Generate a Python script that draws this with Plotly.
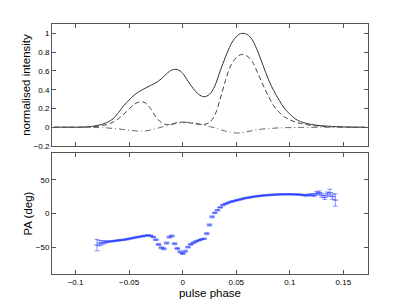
import plotly.graph_objects as go

# pulse profile (top panel)
prof_phase = [-0.12, -0.11, -0.10, -0.09, -0.085, -0.08, -0.075, -0.07, -0.065, -0.06,
              -0.055, -0.05, -0.045, -0.04, -0.035, -0.03, -0.025, -0.02, -0.015, -0.01,
              -0.005, 0.0, 0.005, 0.01, 0.015, 0.02, 0.025, 0.03, 0.035, 0.04,
              0.045, 0.05, 0.055, 0.06, 0.065, 0.07, 0.075, 0.08, 0.085, 0.09,
              0.095, 0.10, 0.105, 0.11, 0.12, 0.13, 0.14, 0.15, 0.16, 0.17]
total_I = [0, 0, 0, 0.003, 0.008, 0.018, 0.032, 0.055, 0.09, 0.155,
           0.23, 0.29, 0.345, 0.385, 0.415, 0.445, 0.475, 0.515, 0.57, 0.61,
           0.615, 0.575, 0.49, 0.41, 0.35, 0.325, 0.35, 0.44, 0.6, 0.75,
           0.88, 0.965, 1.0, 0.99, 0.93, 0.81, 0.66, 0.51, 0.39, 0.29,
           0.2, 0.14, 0.09, 0.06, 0.03, 0.015, 0.008, 0.003, 0, 0]
linear_L = [0, 0, 0, 0.001, 0.004, 0.01, 0.018, 0.03, 0.055, 0.09,
            0.14, 0.195, 0.245, 0.272, 0.26, 0.2, 0.11, 0.05, 0.028, 0.035,
            0.05, 0.055, 0.05, 0.04, 0.03, 0.03, 0.05, 0.13, 0.3, 0.5,
            0.66, 0.74, 0.775, 0.76, 0.7, 0.58, 0.45, 0.33, 0.23, 0.16,
            0.11, 0.08, 0.055, 0.04, 0.02, 0.01, 0.005, 0.002, 0, 0]
circular_V = [0, 0, 0, 0, 0, -0.002, -0.005, -0.008, -0.013, -0.018,
              -0.025, -0.032, -0.038, -0.042, -0.04, -0.03, -0.015, 0.0, 0.015, 0.03,
              0.042, 0.05, 0.053, 0.048, 0.037, 0.022, 0.008, -0.008, -0.025, -0.042,
              -0.055, -0.062, -0.058, -0.048, -0.036, -0.026, -0.019, -0.014, -0.01, -0.007,
              -0.005, -0.004, -0.003, -0.002, -0.001, 0, 0, 0, 0, 0]

# position angle (bottom panel)
pa_phase = [-0.08, -0.0775, -0.075, -0.0725, -0.07, -0.0675, -0.065, -0.0625, -0.06, -0.0575,
            -0.055, -0.0525, -0.05, -0.0475, -0.045, -0.0425, -0.04, -0.0375, -0.035, -0.0325,
            -0.03, -0.0275, -0.025, -0.0225, -0.02, -0.0175, -0.015, -0.0125, -0.01, -0.0075,
            -0.005, -0.0025, 0.0, 0.0025, 0.005, 0.0075, 0.01, 0.0125, 0.015, 0.0175,
            0.02, 0.0225, 0.025, 0.0275, 0.03, 0.0325, 0.035, 0.0375, 0.04, 0.0425,
            0.045, 0.0475, 0.05, 0.0525, 0.055, 0.0575, 0.06, 0.0625, 0.065, 0.0675,
            0.07, 0.0725, 0.075, 0.0775, 0.08, 0.0825, 0.085, 0.0875, 0.09, 0.0925,
            0.095, 0.0975, 0.1, 0.1025, 0.105, 0.1075, 0.11, 0.1125, 0.115, 0.1175,
            0.12, 0.1225, 0.125, 0.1275, 0.13, 0.1325, 0.135, 0.1375, 0.14, 0.1425]
pa_deg = [-47, -44, -43.5, -42.5, -42, -41.5, -41, -40.5, -40, -39.5,
          -39, -38.5, -37.5, -36.8, -36, -35.2, -34.5, -33.8, -33, -32.5,
          -33, -35, -39, -46, -51, -52.5, -44, -35, -33.5, -45,
          -52, -57, -59.5, -56, -50, -46, -43.5, -41.5, -40, -38.5,
          -37.5, -30, -17, -5, 1, 5, 9, 12.5, 14.5, 16,
          17.5, 18.5, 19.5, 20.5, 21.5, 22.5, 23.3, 24, 24.7, 25.3,
          25.8, 26.3, 26.7, 27.1, 27.4, 27.7, 28, 28.2, 28.4, 28.5,
          28.6, 28.6, 28.6, 28.5, 28.4, 28.2, 28, 27.5, 27, 27.5,
          28, 27, 30, 31, 27, 24, 29, 31, 25, 20]
pa_err = [8.5, 4, 3, 2, 1.2, 1, 1, 1, 1, 1,
          1, 1, 1, 1, 1, 1, 1, 1, 1, 1,
          1, 1, 1.2, 1.5, 1.5, 1.5, 1.5, 1.5, 1.5, 1.5,
          1.5, 1.5, 1.5, 1.5, 1.2, 1.2, 1, 1, 1, 1,
          1, 1.5, 1.5, 1.5, 1.2, 1, 1, 1, 1, 1,
          1, 1, 1, 1, 1, 1, 1, 1, 1, 1,
          1, 1, 1, 1, 1, 1, 1, 1, 1, 1,
          1, 1, 1, 1, 1, 1, 1, 1, 1.2, 1.5,
          1.5, 2, 2.5, 2.5, 3, 3, 3, 5, 4, 9]

font = "Liberation Sans, Arial, sans-serif"
blue = "rgba(40,60,255,0.8)"

fig = go.Figure()
fig.add_trace(go.Scatter(x=prof_phase, y=total_I, mode="lines", line_shape="spline",
                         line=dict(color="#333333", width=1), xaxis="x2", yaxis="y2"))
fig.add_trace(go.Scatter(x=prof_phase, y=linear_L, mode="lines", line_shape="spline",
                         line=dict(color="#444444", width=1, dash="5px,3px"), xaxis="x2", yaxis="y2"))
fig.add_trace(go.Scatter(x=prof_phase, y=circular_V, mode="lines", line_shape="spline",
                         line=dict(color="#666666", width=1, dash="6px,3px,1px,3px"), xaxis="x2", yaxis="y2"))
fig.add_trace(go.Scatter(x=pa_phase, y=pa_deg, mode="markers",
                         marker=dict(symbol="line-ew", size=4, line=dict(color=blue, width=1)),
                         error_y=dict(type="data", array=pa_err, color=blue, thickness=0.7, width=2.5),
                         xaxis="x", yaxis="y"))

ax = dict(showline=True, linecolor="#555555", linewidth=1, mirror="ticks", ticks="inside",
          ticklen=4, tickcolor="#555555", showgrid=False, zeroline=False,
          tickfont=dict(family=font, size=8, color="black"), automargin=False)

# the page body adds an 8px offset, so domains are placed 8px up/left of the reference
fig.update_layout(
    width=407, height=306, showlegend=False,
    paper_bgcolor="white", plot_bgcolor="white",
    margin=dict(l=0, r=0, t=0, b=0),
    xaxis=dict(ax, domain=[0.1081, 0.8845], range=[-0.122, 0.173], anchor="y",
               tickvals=[-0.1, -0.05, 0, 0.05, 0.1, 0.15],
               ticktext=["\u22120.1", "\u22120.05", "0", "0.05", "0.1", "0.15"],
               title=dict(text="pulse phase", font=dict(family=font, size=11.5, color="black"), standoff=2)),
    yaxis=dict(ax, domain=[0.1307, 0.5261], range=[-90, 90], anchor="x",
               tickvals=[-50, 0, 50], ticktext=["\u221250", "0", "50"],
               title=dict(text="PA (deg)", font=dict(family=font, size=11.5, color="black"), standoff=0)),
    xaxis2=dict(ax, domain=[0.1081, 0.8845], range=[-0.122, 0.173], anchor="y2",
                tickvals=[-0.1, -0.05, 0, 0.05, 0.1, 0.15], showticklabels=False),
    yaxis2=dict(ax, domain=[0.549, 0.9477], range=[-0.2, 1.1], anchor="x2",
                tickvals=[-0.2, 0, 0.2, 0.4, 0.6, 0.8, 1],
                ticktext=["\u22120.2", "0", "0.2", "0.4", "0.6", "0.8", "1"],
                title=dict(text="normalised intensity", font=dict(family=font, size=11.5, color="black"), standoff=0)),
)

fig.write_html("out.html")
